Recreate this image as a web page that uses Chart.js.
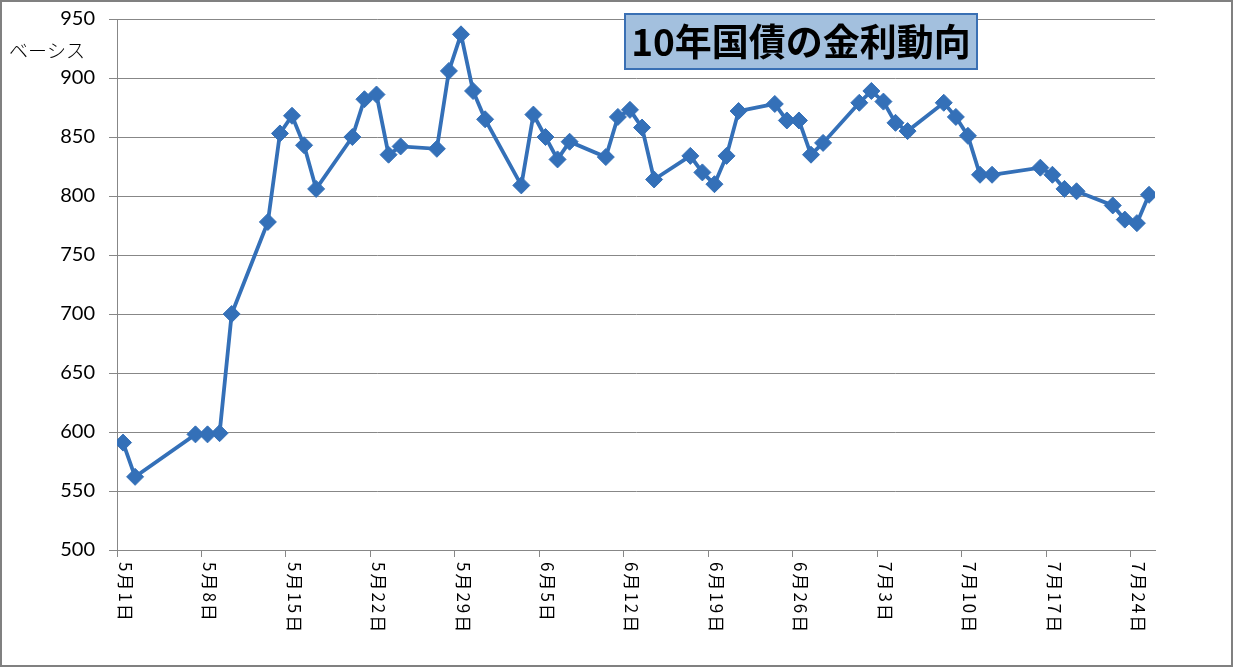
<!DOCTYPE html>
<html>
<head>
<meta charset="utf-8">
<script src="https://cdn.jsdelivr.net/npm/chart.js@4"></script>
<style>
html,body{margin:0;padding:0;background:#fff;}
canvas{display:block;}
</style>
</head>
<body>
<canvas id="c" width="1234" height="669"></canvas>
<script>
// ---- data ----
const dates = ['5/1','5/2','5/7','5/8','5/9','5/10','5/13','5/14','5/15','5/16','5/17','5/20','5/21','5/22','5/23','5/24','5/27','5/28','5/29','5/30','5/31',
  '6/3','6/4','6/5','6/6','6/7','6/10','6/11','6/12','6/13','6/14','6/17','6/18','6/19','6/20','6/21','6/24','6/25','6/26','6/27','6/28',
  '7/1','7/2','7/3','7/4','7/5','7/8','7/9','7/10','7/11','7/12','7/16','7/17','7/18','7/19','7/22','7/23','7/24','7/25'];
const values = [591,562,598,598,599,700,778,853,868,843,806,850,882,886,835,842,840,906,937,889,865,
  809,869,850,831,846,833,867,873,858,814,834,820,810,834,872,878,864,864,835,845,
  879,889,880,862,855,879,867,851,818,818,824,818,806,804,792,780,777,801];
const tickDates = ['5/1','5/8','5/15','5/22','5/29','6/5','6/12','6/19','6/26','7/3','7/10','7/17','7/24'];
const tickLabels = ['5月1日','5月8日','5月15日','5月22日','5月29日','6月5日','6月12日','6月19日','6月26日','7月3日','7月10日','7月17日','7月24日'];
const yTicks = [500,550,600,650,700,750,800,850,900,950];
const axisFirst = '5/1', axisLast = '7/26';
const titleText = '10年国債の金利動向';
const unitText = 'ベーシス';

function dayIndex(s){
  const [m,d] = s.split('/').map(Number);
  return Math.round((Date.UTC(2013,m-1,d) - Date.UTC(2013,4,1))/86400000);
}

const points = dates.map((d,i)=>({x: dayIndex(d), y: values[i]}));
const tickDays = tickDates.map(dayIndex);

const GRID = '#878787';
const BLUE = '#3470b8';

const deco = {
  id:'deco',
  afterDraw(chart){
    const ctx = chart.ctx, xs = chart.scales.x;
    ctx.save();
    // x tick labels rotated clockwise
    ctx.fillStyle = '#000';
    ctx.font = '17px "Noto Sans CJK JP"';
    try { ctx.letterSpacing = '2px'; } catch(e) {}
    xs.ticks.forEach((t,i)=>{
      const px = xs.getPixelForValue(t.value);
      ctx.save();
      ctx.translate(px + 8, xs.top + 12);
      ctx.rotate(Math.PI/2);
      ctx.textAlign = 'left';
      ctx.textBaseline = 'middle';
      ctx.fillText(tickLabels[i], 0, 0);
      ctx.restore();
    });
    try { ctx.letterSpacing = '0px'; } catch(e) {}
    // unit label
    ctx.font = '300 19px "Noto Sans CJK JP"';
    ctx.textAlign = 'left';
    ctx.textBaseline = 'middle';
    ctx.fillText(unitText, 9, 51);
    // title box
    ctx.fillStyle = '#a3c0de';
    ctx.fillRect(625, 14, 352, 55);
    ctx.strokeStyle = '#3a70b4';
    ctx.lineWidth = 2;
    ctx.strokeRect(625, 14, 352, 55);
    ctx.fillStyle = '#000';
    ctx.font = 'bold 37px "Noto Sans CJK JP"';
    ctx.textAlign = 'center';
    ctx.fillText(titleText, 801, 42);
    // outer frame
    ctx.strokeStyle = '#808080';
    ctx.lineWidth = 2;
    ctx.strokeRect(1, 1, 1231, 665);
    ctx.restore();
  }
};

new Chart(document.getElementById('c'), {
  type: 'line',
  data: {
    datasets: [{
      data: points,
      borderColor: BLUE,
      backgroundColor: BLUE,
      borderWidth: 3.8,
      tension: 0,
      pointStyle: 'rectRot',
      pointRadius: 8.5,
      pointBorderWidth: 1,
      pointBackgroundColor: BLUE,
      pointBorderColor: BLUE
    }]
  },
  options: {
    responsive: false,
    animation: false,
    devicePixelRatio: 1,
    layout: { padding: { top: 19, right: 79, bottom: 0, left: 0 } },
    plugins: { legend: { display: false }, tooltip: { enabled: false }, title: { display: false } },
    scales: {
      x: {
        type: 'linear',
        min: dayIndex(axisFirst) - 0.5,
        max: dayIndex(axisLast) - 0.5,
        afterBuildTicks: s => { s.ticks = tickDays.map(d => ({ value: d - 0.5 })); },
        afterFit: s => { s.height = 119; s.paddingLeft = 0; s.paddingRight = 0; },
        ticks: { display: false },
        grid: { drawOnChartArea: false, drawTicks: true, tickLength: 7, color: GRID, lineWidth: 1 },
        border: { color: GRID, width: 1 }
      },
      y: {
        min: 500,
        max: 950,
        afterBuildTicks: s => { s.ticks = yTicks.map(v => ({ value: v })); },
        afterFit: s => { s.width = 117; s.paddingTop = 0; s.paddingBottom = 0; },
        ticks: { color: '#000', font: { family: 'Lato', size: 20 }, padding: 14 },
        grid: { color: GRID, lineWidth: 1, tickLength: 8 },
        border: { color: GRID, width: 1 }
      }
    }
  },
  plugins: [deco]
});
</script>
</body>
</html>
